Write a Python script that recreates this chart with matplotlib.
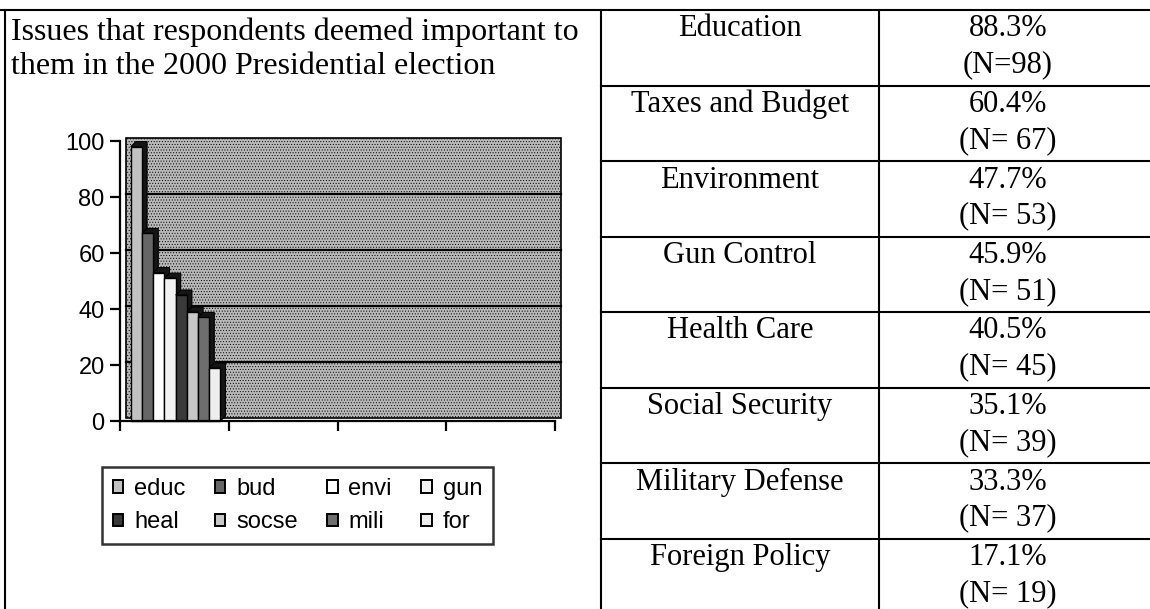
import matplotlib.pyplot as plt
from matplotlib.patches import Rectangle, Polygon, Patch

# survey table
issues = ["Education", "Taxes and Budget", "Environment", "Gun Control",
          "Health Care", "Social Security", "Military Defense", "Foreign Policy"]
pcts = [88.3, 60.4, 47.7, 45.9, 40.5, 35.1, 33.3, 17.1]
ns = [98, 67, 53, 51, 45, 39, 37, 19]
n_labels = ["(N=98)", "(N= 67)", "(N= 53)", "(N= 51)", "(N= 45)", "(N= 39)", "(N= 37)", "(N= 19)"]

# chart series (one bar per issue, counts)
series = ["educ", "bud", "envi", "gun", "heal", "socse", "mili", "for"]
colors = ["#c2c2c2", "#666666", "#ffffff", "#f2f2f2", "#3a3a3a", "#c8c8c8", "#6e6e6e", "#eeeeee"]
yticks = [0, 20, 40, 60, 80, 100]
n_cats = 4

W, H = 1150, 609
fig = plt.figure(figsize=(W / 100, H / 100), dpi=100)
plt.rcParams["hatch.color"] = "#a2a2a2"
plt.rcParams["hatch.linewidth"] = 0.4

serif = "Liberation Serif"
sans = "Liberation Sans"

# table frame
frame = fig.add_axes([0, 0, 1, 1])
frame.set_xlim(0, W)
frame.set_ylim(H, 0)
frame.axis("off")
lw = 1.5
top, row_h = 10, 75.5
col1, col2 = 601, 879
frame.plot([0, W], [top, top], color="k", lw=lw)
for x in (5, col1, col2):
    frame.plot([x, x], [top, H], color="k", lw=lw)
for r in range(1, len(issues)):
    y = top + r * row_h
    frame.plot([col1, W], [y, y], color="k", lw=lw)

frame.text(11, 32, "Issues that respondents deemed important to", fontsize=23,
           family=serif, va="center", ha="left")
frame.text(11, 66, "them in the 2000 Presidential election", fontsize=23,
           family=serif, va="center", ha="left")

for r, (iss, p, nl) in enumerate(zip(issues, pcts, n_labels)):
    y0 = top + r * row_h
    frame.text((col1 + col2) / 2, y0 + 19, iss, fontsize=22, family=serif,
               ha="center", va="center")
    frame.text(1008, y0 + 19, f"{p:.1f}%", fontsize=22, family=serif,
               ha="center", va="center")
    frame.text(1008, y0 + 55, nl, fontsize=22, family=serif,
               ha="center", va="center")

# bar chart
ax_l, ax_r, ax_b, ax_t = 120, 555, 421, 141
ax = fig.add_axes([ax_l / W, 1 - ax_b / H, (ax_r - ax_l) / W, (ax_b - ax_t) / H])
ax.set_xlim(0, n_cats)
ax.set_ylim(0, 100)
ax.patch.set_visible(False)
for s in ("top", "right"):
    ax.spines[s].set_visible(False)
for s in ("left", "bottom"):
    ax.spines[s].set_linewidth(1.6)
    ax.spines[s].set_zorder(10)
ax.set_yticks(yticks)
ax.set_xticks(range(n_cats + 1))
ax.set_xticklabels([])
ax.tick_params(direction="out", length=7, width=1.6, labelsize=17, pad=4)
for lab in ax.get_yticklabels():
    lab.set_family(sans)

# pixel -> data scale for the 3d depth offsets
sx = (ax_r - ax_l) / n_cats
sy = (ax_b - ax_t) / 100.0

# back wall and gridlines
wdx, wdy = 6 / sx, 3 / sy
ax.add_patch(Rectangle((wdx, wdy), n_cats, 100, facecolor="#b8b8b8",
                       edgecolor="k", lw=1.2, hatch="......", zorder=0.5, clip_on=False))
for v in yticks[1:-1]:
    ax.plot([wdx, n_cats + wdx], [v + wdy, v + wdy], color="k", lw=1.6,
            zorder=1, clip_on=False)

# 3d-looking columns
bdx, bdy = 5 / sx, 5 / sy
start, pitch = 0.1, 0.103
for i, (v, c) in enumerate(zip(ns, colors)):
    x0 = start + i * pitch
    x1 = x0 + pitch
    depth = Polygon([(x0, v), (x0 + bdx, v + bdy), (x1 + bdx, v + bdy),
                     (x1 + bdx, bdy), (x1, 0), (x1, v)],
                    closed=True, facecolor="#151515", edgecolor="k", lw=0.8,
                    zorder=2 + i, clip_on=False)
    ax.add_patch(depth)
    ax.add_patch(Rectangle((x0, 0), pitch, v, facecolor=c, edgecolor="k",
                           lw=1.0, zorder=2 + i + 0.5, clip_on=False))

# legend laid out row by row
order = [0, 4, 1, 5, 2, 6, 3, 7]
handles = [Patch(facecolor=colors[k], edgecolor="k", lw=1.4) for k in order]
labels = [series[k] for k in order]
leg = fig.legend(handles, labels, ncol=4, loc="upper left",
                 bbox_to_anchor=(102 / W, 1 - 467 / H), frameon=True,
                 fancybox=False, edgecolor="k", prop={"family": sans, "size": 17},
                 handlelength=0.45, handleheight=0.45, handletextpad=0.45,
                 columnspacing=1.25, borderpad=0.45, labelspacing=0.5,
                 borderaxespad=0)
leg.get_frame().set_linewidth(1.8)

fig.savefig("out.png", dpi=100)
